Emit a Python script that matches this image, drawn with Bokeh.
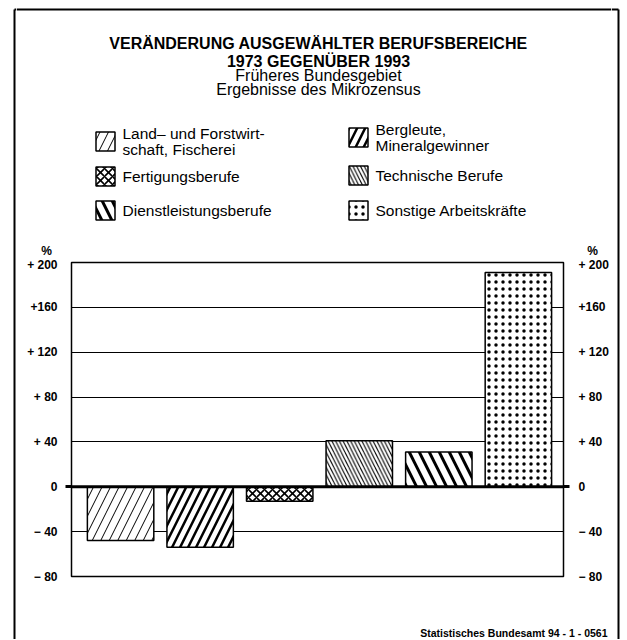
from bokeh.plotting import figure
from bokeh.models import Range1d, FixedTicker, LinearAxis, Span, ColumnDataSource
from bokeh.layouts import row, column
from bokeh.core.properties import value
from bokeh.embed import file_html
from bokeh.resources import INLINE

# ---------------- data ----------------
categories = [
    "Land- und Forstwirtschaft, Fischerei",
    "Bergleute, Mineralgewinner",
    "Fertigungsberufe",
    "Technische Berufe",
    "Dienstleistungsberufe",
    "Sonstige Arbeitskräfte",
]
legend_labels = [
    ["Land– und Forstwirt-", "schaft, Fischerei"],
    ["Bergleute,", "Mineralgewinner"],
    ["Fertigungsberufe"],
    ["Technische Berufe"],
    ["Dienstleistungsberufe"],
    ["Sonstige Arbeitskräfte"],
]
values = [-48, -54, -13, 41, 31, 191]
y_ticks = [-80, -40, 0, 40, 80, 120, 160, 200]
y_tick_labels = ["− 80", "− 40", "0", "+ 40", "+ 80", "+ 120", "+160", "+ 200"]
title_bold = ["VERÄNDERUNG AUSGEWÄHLTER BERUFSBEREICHE", "1973 GEGENÜBER 1993"]
title_plain = ["Früheres Bundesgebiet", "Ergebnisse des Mikrozensus"]
unit_label = "%"
source_note = "Statistisches Bundesamt 94 - 1 - 0561"

# ---------------- styles ----------------
FONT = value("Liberation Sans")
hatch_patterns = ["/", "/", "x", "\\", "\\", "."]
hatch_scales = [17, 16, 8, 7.5, 20, 7]
hatch_weights = [1, 2.5, 1.6, 1.1, 3, 1.4]


def blank_fig(w, h, xr, yr):
    f = figure(width=w, height=h, x_range=Range1d(*xr), y_range=Range1d(*yr),
               toolbar_location=None, output_backend="svg",
               x_axis_location=None, y_axis_location=None, min_border=0)
    f.frame_align = False
    f.grid.visible = False
    f.outline_line_color = None
    f.background_fill_color = "white"
    f.border_fill_color = "white"
    return f


# ---------------- top part: title + legend ----------------
top = blank_fig(595, 257, (16, 611), (257, 0))
top.segment(x0=[16], y0=[9], x1=[611], y1=[9], line_color="black", line_width=2)
top.text(x=[318, 318], y=[43, 61], text=title_bold, text_align="center",
         text_baseline="middle", text_font=FONT, text_font_style="bold",
         text_font_size="16px", text_color="black")
top.text(x=[318, 318], y=[75, 89], text=title_plain, text_align="center",
         text_baseline="middle", text_font=FONT, text_font_size="16px",
         text_color="black")

sw_x = [105, 358, 105, 358, 105, 358]
sw_y = [141, 137, 176, 175, 210, 210]
leg_src = ColumnDataSource(dict(x=sw_x, y=sw_y, hp=hatch_patterns,
                                hs=hatch_scales, hw=hatch_weights))
top.rect(x="x", y="y", width=19, height=19, source=leg_src, fill_color="white",
         line_color="black", line_width=1.5, hatch_pattern="hp",
         hatch_scale="hs", hatch_weight="hw", hatch_color="black")
tx, ty, tt = [], [], []
for i, lines in enumerate(legend_labels):
    n = len(lines)
    for j, line in enumerate(lines):
        tx.append(sw_x[i] + 17)
        ty.append(sw_y[i] + (j - (n - 1) / 2) * 16)
        tt.append(line)
top.text(x=tx, y=ty, text=tt, text_align="left", text_baseline="middle",
         text_font=FONT, text_font_size="15.5px", text_color="black")
top.text(x=[46, 592], y=[250, 250], text=[unit_label, unit_label],
         text_align="center", text_baseline="middle", text_font=FONT,
         text_font_style="bold", text_font_size="12px", text_color="black")

# ---------------- chart ----------------
xs = list(range(len(categories)))
src = ColumnDataSource(dict(x=xs, top=values, hp=hatch_patterns,
                            hs=hatch_scales, hw=hatch_weights))
chart = figure(width=595, height=343, x_range=Range1d(-0.617, 5.567),
               y_range=Range1d(-80, 200), toolbar_location=None,
               output_backend="svg", x_axis_location=None,
               y_axis_location="left", min_border_left=55, min_border_right=44,
               min_border_top=5, min_border_bottom=24)
chart.frame_align = False
chart.background_fill_color = "white"
chart.border_fill_color = "white"
chart.outline_line_color = "black"
chart.outline_line_width = 1.5

ticker = FixedTicker(ticks=y_ticks, minor_ticks=[0])
overrides = {t: lab for t, lab in zip(y_ticks, y_tick_labels)}

right_axis = LinearAxis()
chart.add_layout(right_axis, "right")
for ax, standoff in ((chart.yaxis[0], 8), (right_axis, 9)):
    ax.ticker = ticker
    ax.major_label_overrides = overrides
    ax.axis_line_color = None
    ax.major_tick_in = 0
    ax.major_tick_out = 0
    ax.major_tick_line_color = None
    ax.minor_tick_in = 0
    ax.minor_tick_out = 6
    ax.minor_tick_line_width = 3
    ax.minor_tick_line_color = "black"
    ax.major_label_standoff = standoff
    ax.major_label_text_font = "Liberation Sans"
    ax.major_label_text_font_style = "bold"
    ax.major_label_text_font_size = "12px"
    ax.major_label_text_color = "black"

chart.xgrid.visible = False
chart.ygrid.ticker = FixedTicker(ticks=y_ticks)
chart.ygrid.grid_line_color = "black"
chart.ygrid.grid_line_width = 1

chart.vbar(x="x", top="top", bottom=0, width=0.835, source=src,
           fill_color="white", line_color="black", line_width=1.5,
           hatch_pattern="hp", hatch_scale="hs", hatch_weight="hw",
           hatch_color="black")
chart.add_layout(Span(location=0, dimension="width", line_color="black",
                      line_width=3))

# ---------------- footer ----------------
foot = blank_fig(595, 39, (16, 611), (639, 600))
foot.text(x=[607], y=[632], text=[source_note], text_align="right",
          text_baseline="middle", text_font=FONT, text_font_style="bold",
          text_font_size="10.5px", text_color="black")

# ---------------- side strips (outer frame) ----------------
ls = blank_fig(16, 639, (0, 16), (639, 0))
ls.segment(x0=[14, 14], y0=[9, 9], x1=[14, 16], y1=[639, 9],
           line_color="black", line_width=2)
rs = blank_fig(16, 639, (611, 627), (639, 0))
rs.segment(x0=[618, 611], y0=[9, 9], x1=[618, 618], y1=[639, 9],
           line_color="black", line_width=2)

layout = row(ls, column(top, chart, foot), rs)

open("out.html", "w").write(file_html(layout, INLINE))
